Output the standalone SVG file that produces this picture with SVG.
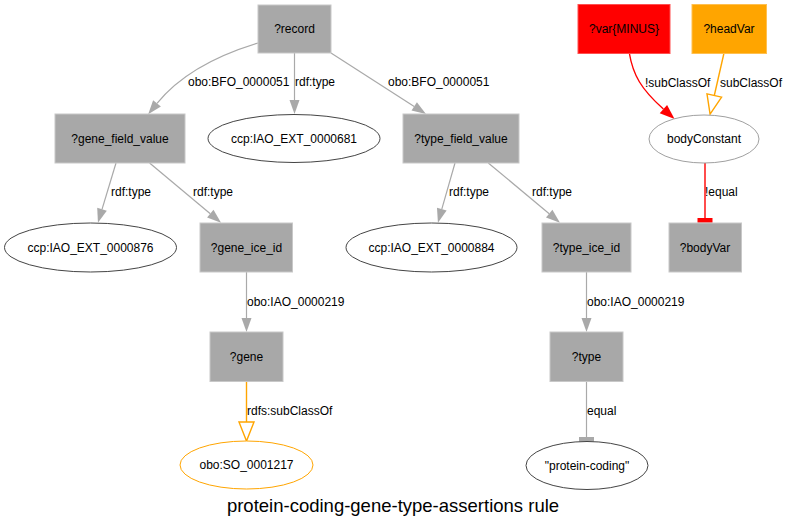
<svg xmlns="http://www.w3.org/2000/svg" width="787" height="528" viewBox="0 0 787 528">
<style>
text{font-family:"Liberation Sans",Arial,sans-serif;font-size:12px;fill:#000}
.lbl{text-anchor:middle}
.box{fill:#a8a8a8;stroke:#c8c8c8;stroke-width:1}
.ell{fill:#fff;stroke:#444;stroke-width:1}
.e{fill:none;stroke:#a9a9a9;stroke-width:1.2}
.er{fill:none;stroke:#ff0000;stroke-width:1.4}
.eo{fill:none;stroke:#ffa500;stroke-width:1.4}
.title{font-size:18.5px;text-anchor:middle}
</style>
<defs>
<marker id="ag" markerUnits="userSpaceOnUse" markerWidth="16" markerHeight="12" refX="0" refY="5" orient="auto" overflow="visible"><path d="M0,0 L14,5 L0,10 z" fill="#a9a9a9"/></marker>
<marker id="ar" markerUnits="userSpaceOnUse" markerWidth="17" markerHeight="13" refX="0" refY="5.5" orient="auto" overflow="visible"><path d="M0,0 L15,5.5 L0,11 z" fill="#ff0000"/></marker>
<marker id="ao" markerUnits="userSpaceOnUse" markerWidth="22" markerHeight="18" refX="0" refY="8" orient="auto" overflow="visible"><path d="M0,0.5 L19,8 L0,15.5 z" fill="#fff" stroke="#ffa500" stroke-width="1.4"/></marker>
<marker id="tg" markerUnits="userSpaceOnUse" markerWidth="6" markerHeight="16" refX="0" refY="7.5" orient="auto" overflow="visible"><rect x="0" y="0" width="4.7" height="15" fill="#a9a9a9"/></marker>
<marker id="tr" markerUnits="userSpaceOnUse" markerWidth="6" markerHeight="16" refX="0" refY="7.5" orient="auto" overflow="visible"><rect x="0" y="0" width="4.7" height="15" fill="#ff0000"/></marker>
</defs>
<g id="edges">
<path class="e" d="M258,43 C215,56 180,75 157,103.4" marker-end="url(#ag)"/>
<path class="e" d="M294.5,53 L294.5,100" marker-end="url(#ag)"/>
<path class="e" d="M331,53 L414.2,106.4" marker-end="url(#ag)"/>
<path class="e" d="M116,163 L102,209.3" marker-end="url(#ag)"/>
<path class="e" d="M149.6,163 L210.3,213.7" marker-end="url(#ag)"/>
<path class="e" d="M246.5,272 L246.5,318" marker-end="url(#ag)"/>
<path class="eo" d="M246.5,382 L246.5,422" marker-end="url(#ao)"/>
<path class="e" d="M455,163 L441.8,209.2" marker-end="url(#ag)"/>
<path class="e" d="M488.3,163 L549.2,213.7" marker-end="url(#ag)"/>
<path class="e" d="M586.5,272 L586.5,318" marker-end="url(#ag)"/>
<path class="e" d="M586.5,382 L586.5,437" marker-end="url(#tg)"/>
<path class="er" d="M629.3,53 C633,75 641,89 663.4,109.1" marker-end="url(#ar)"/>
<path class="eo" d="M724,53 L714.3,95.5" marker-end="url(#ao)"/>
<path class="er" d="M705,163 L705,218" marker-end="url(#tr)"/>
<text x="188" y="86">obo:BFO_0000051</text>
<text x="295" y="86">rdf:type</text>
<text x="388" y="86">obo:BFO_0000051</text>
<text x="645" y="87">!subClassOf</text>
<text x="720" y="87">subClassOf</text>
<text x="111" y="196">rdf:type</text>
<text x="193" y="196">rdf:type</text>
<text x="449" y="196">rdf:type</text>
<text x="532" y="196">rdf:type</text>
<text x="705" y="196">!equal</text>
<text x="247" y="306">obo:IAO_0000219</text>
<text x="587" y="306">obo:IAO_0000219</text>
<text x="247" y="415">rdfs:subClassOf</text>
<text x="587" y="415">equal</text>
</g>
<g id="n_record"><rect class="box" x="258" y="5" width="73" height="48"/><text class="lbl" x="294.5" y="33">?record</text></g>
<g id="n_gene_field_value"><rect class="box" x="55" y="114" width="130" height="49"/><text class="lbl" x="120" y="142.5">?gene_field_value</text></g>
<g id="n_681"><ellipse class="ell" cx="294" cy="138.5" rx="86" ry="24"/><text class="lbl" x="294" y="142.5">ccp:IAO_EXT_0000681</text></g>
<g id="n_type_field_value"><rect class="box" x="403" y="114" width="116" height="49"/><text class="lbl" x="461" y="142.5">?type_field_value</text></g>
<g id="n_var_minus"><rect x="578" y="4.5" width="92" height="49" fill="#ff0000" stroke="#ff5050"/><text class="lbl" x="624" y="33">?var{MINUS}</text></g>
<g id="n_headVar"><rect x="692" y="4.5" width="74.5" height="49" fill="#ffa500" stroke="#ffc050"/><text class="lbl" x="729" y="33">?headVar</text></g>
<g id="n_bodyConstant"><ellipse cx="704" cy="139" rx="55" ry="24" fill="#fff" stroke="#a0a0a0"/><text class="lbl" x="704" y="143">bodyConstant</text></g>
<g id="n_876"><ellipse class="ell" cx="90.5" cy="247.5" rx="86" ry="24.5"/><text class="lbl" x="90.5" y="251.5">ccp:IAO_EXT_0000876</text></g>
<g id="n_gene_ice_id"><rect class="box" x="200" y="223" width="92.5" height="49"/><text class="lbl" x="246.5" y="251.5">?gene_ice_id</text></g>
<g id="n_884"><ellipse class="ell" cx="431.5" cy="247.5" rx="85.5" ry="24.5"/><text class="lbl" x="431.5" y="251.5">ccp:IAO_EXT_0000884</text></g>
<g id="n_type_ice_id"><rect class="box" x="542" y="223" width="89" height="49"/><text class="lbl" x="586.5" y="251.5">?type_ice_id</text></g>
<g id="n_bodyVar"><rect class="box" x="669" y="223" width="72.5" height="49"/><text class="lbl" x="705" y="251.5">?bodyVar</text></g>
<g id="n_gene"><rect class="box" x="210" y="332" width="73" height="49.5"/><text class="lbl" x="246.5" y="361">?gene</text></g>
<g id="n_type"><rect class="box" x="550" y="332" width="73" height="49.5"/><text class="lbl" x="586.5" y="361">?type</text></g>
<g id="n_SO"><ellipse cx="246.5" cy="465" rx="66.5" ry="24" fill="#fff" stroke="#ffa500"/><text class="lbl" x="246.5" y="469">obo:SO_0001217</text></g>
<g id="n_protein_coding"><ellipse class="ell" cx="587" cy="465.5" rx="61" ry="24"/><text class="lbl" x="587" y="469.5">"protein-coding"</text></g>
<text class="title" x="393" y="511.5">protein-coding-gene-type-assertions rule</text>
</svg>
